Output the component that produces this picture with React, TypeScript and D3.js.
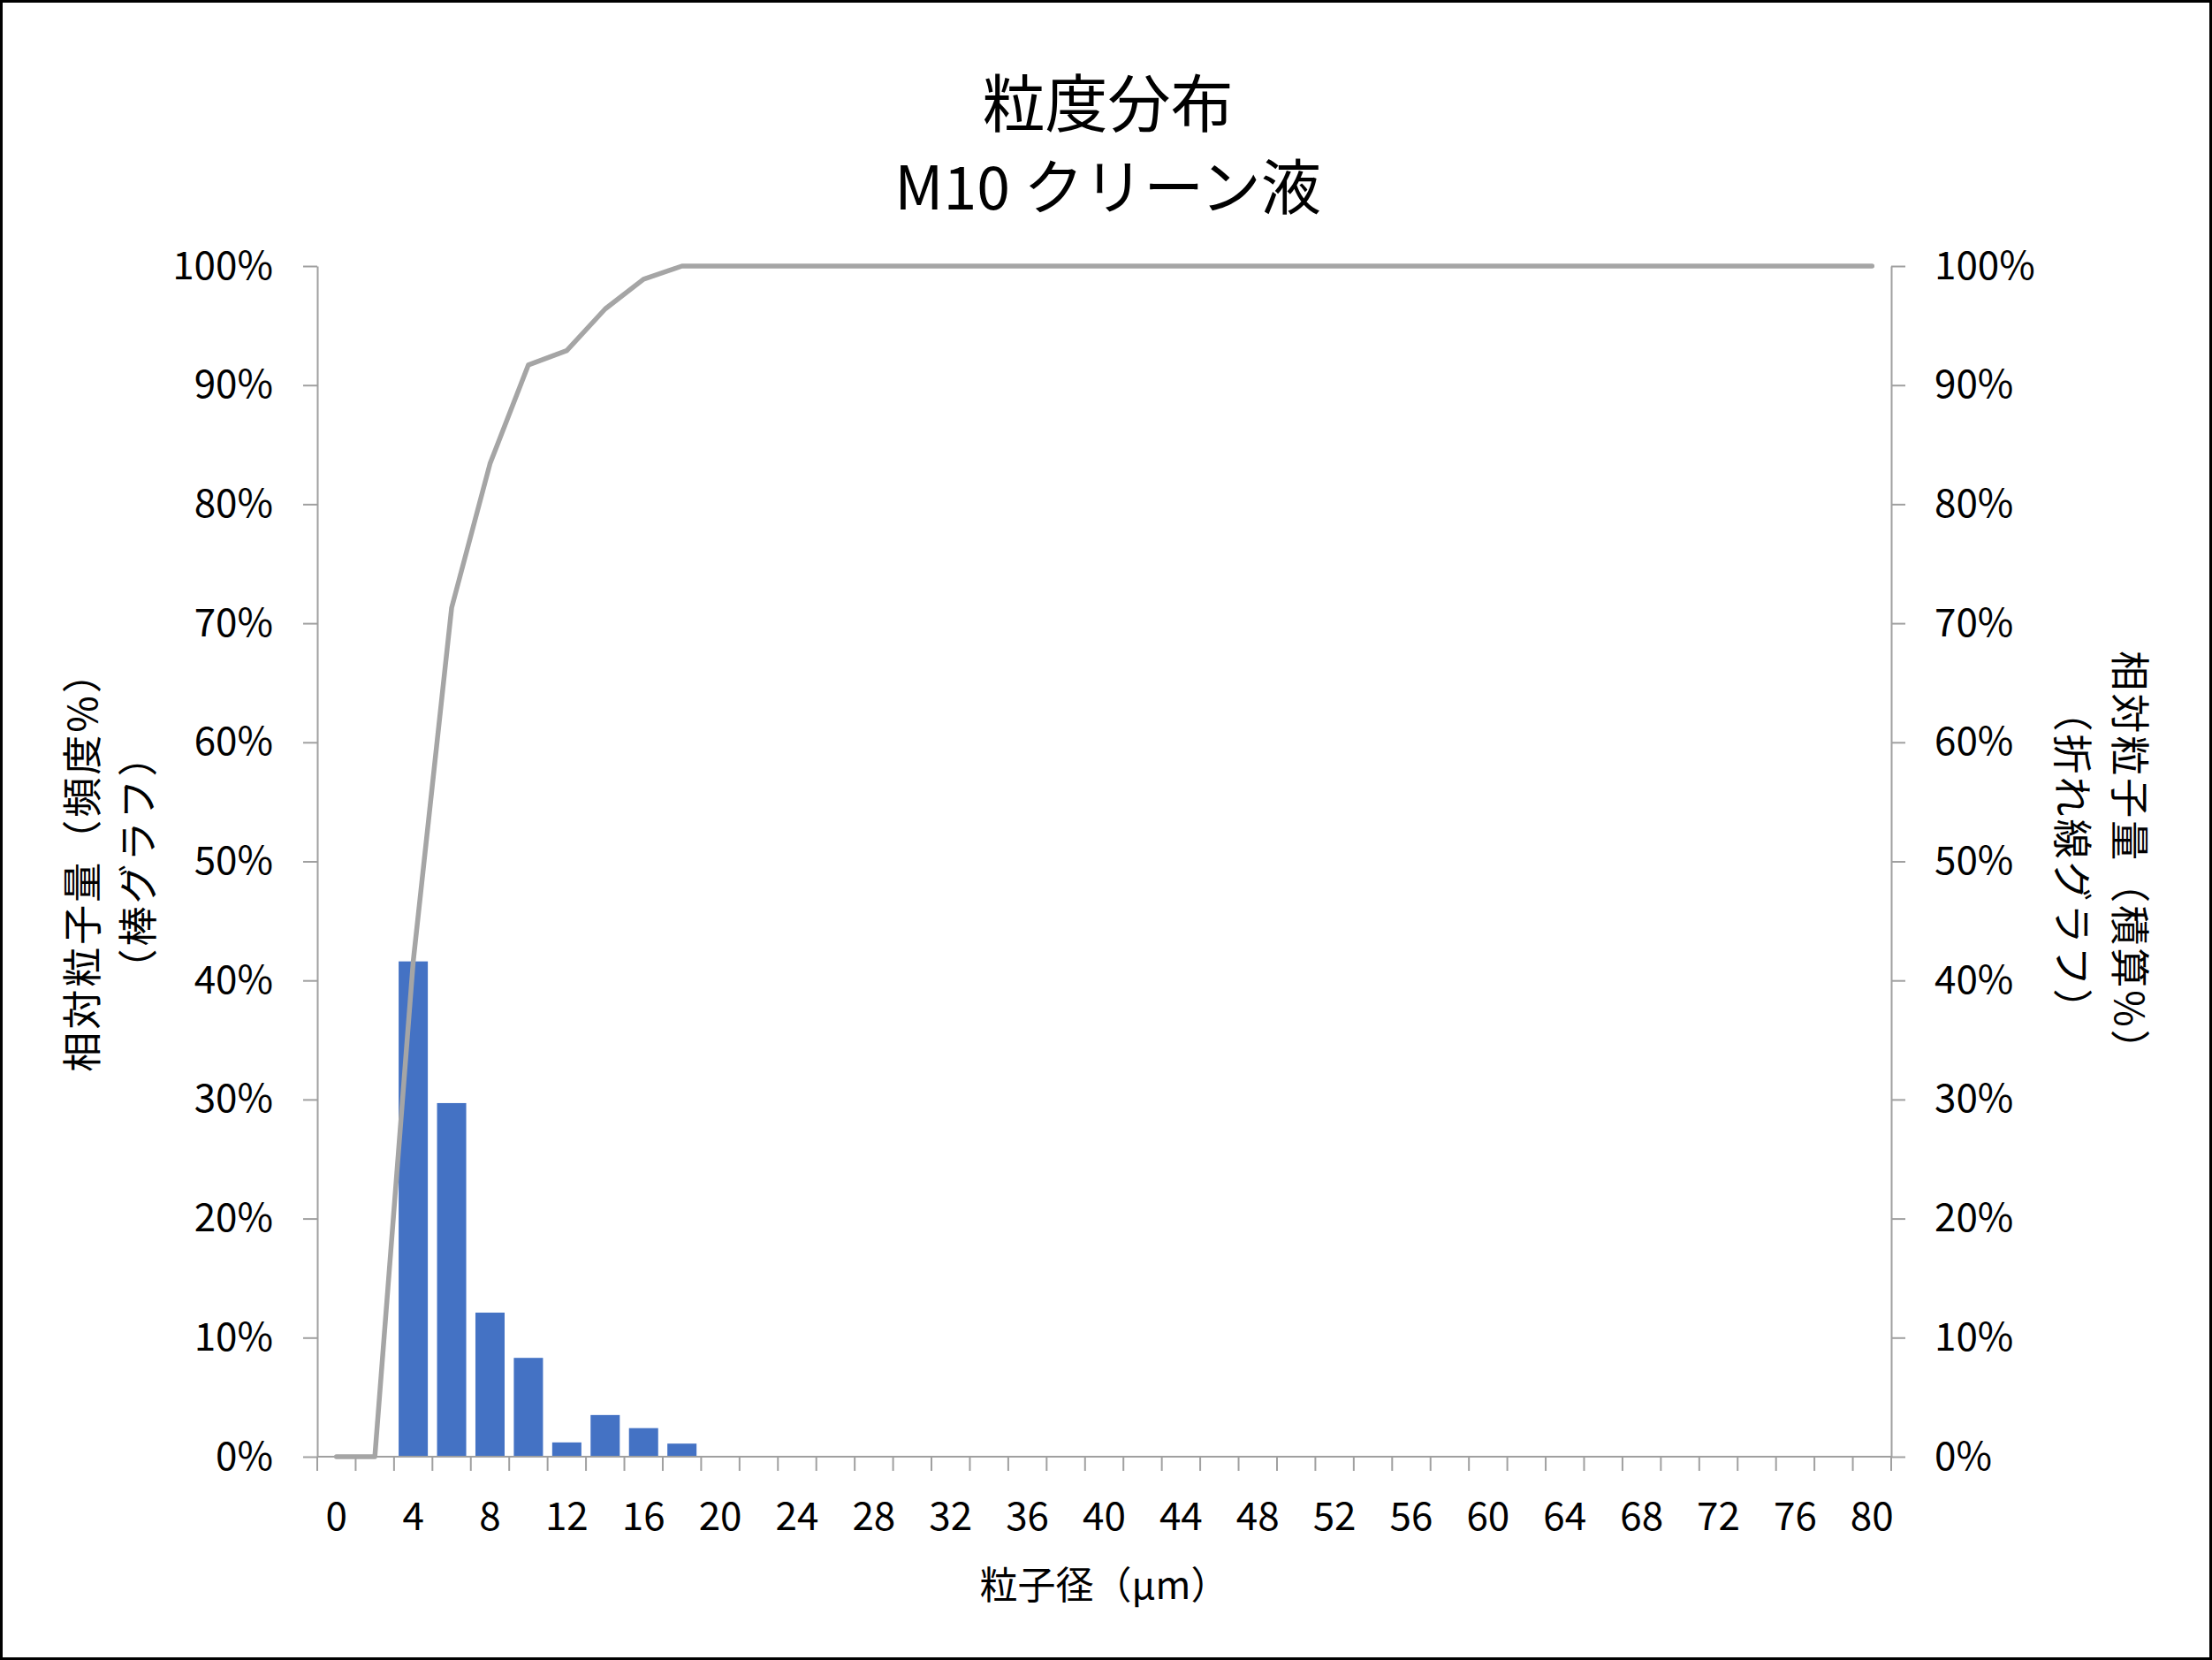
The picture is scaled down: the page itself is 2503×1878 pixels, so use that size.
import { useEffect, useRef } from 'react';
import * as d3 from 'd3';

// particle size categories (µm)
const sizes = [
  '0', '2', '4', '6', '8', '10', '12', '14', '16', '18',
  '20', '22', '24', '26', '28', '30', '32', '34', '36', '38',
  '40', '42', '44', '46', '48', '50', '52', '54', '56', '58',
  '60', '62', '64', '66', '68', '70', '72', '74', '76', '78', '80',
];

// frequency % (bars)
const frequency = [
  0, 0, 41.6, 29.7, 12.1, 8.3, 1.2, 3.5, 2.4, 1.1,
  0, 0, 0, 0, 0, 0, 0, 0, 0, 0,
  0, 0, 0, 0, 0, 0, 0, 0, 0, 0,
  0, 0, 0, 0, 0, 0, 0, 0, 0, 0, 0,
];

// cumulative % (line)
const cumulative = [
  0, 0, 41.6, 71.3, 83.4, 91.7, 92.9, 96.4, 98.9, 100,
  100, 100, 100, 100, 100, 100, 100, 100, 100, 100,
  100, 100, 100, 100, 100, 100, 100, 100, 100, 100,
  100, 100, 100, 100, 100, 100, 100, 100, 100, 100, 100,
];

const xTickLabels = [
  '0', '4', '8', '12', '16', '20', '24', '28', '32', '36', '40',
  '44', '48', '52', '56', '60', '64', '68', '72', '76', '80',
];
const yTicks = [0, 10, 20, 30, 40, 50, 60, 70, 80, 90, 100];

const titleLines = ['粒度分布', 'M10 クリーン液'];
const leftTitle = ['相対粒子量（頻度%）', '（棒グラフ）'];
const rightTitle = ['相対粒子量（積算%）', '（折れ線グラフ）'];
const xTitle = '粒子径（μm）';

const W = 2503;
const H = 1878;
const FONT = "'Noto Sans CJK JP', 'Noto Sans', sans-serif";
const AXIS = '#a0a0a0';

export default function App() {
  const svgRef = useRef<SVGSVGElement>(null);

  useEffect(() => {
    if (!svgRef.current) return;
    const margin = { top: 301, right: W - 2140, bottom: H - 1648, left: 359 };
    const left = margin.left;
    const right = W - margin.right;
    const top = margin.top;
    const bottom = H - margin.bottom;

    d3.select(svgRef.current).selectAll('*').remove();
    const svg = d3.select(svgRef.current)
      .attr('width', W)
      .attr('height', H)
      .style('font-family', FONT);

    svg.append('rect')
      .attr('x', 1.5).attr('y', 1.5)
      .attr('width', W - 3).attr('height', H - 3)
      .attr('fill', '#fff').attr('stroke', '#000').attr('stroke-width', 3);

    const x = d3.scaleBand<string>().domain(sizes).range([left, right]).padding(0);
    const y = d3.scaleLinear().domain([0, 100]).range([bottom, top]);
    const yRight = d3.scaleLinear().domain([0, 100]).range([bottom, top]);

    // titles
    svg.append('g')
      .selectAll('text')
      .data(titleLines)
      .enter()
      .append('text')
      .attr('x', (left + right) / 2 + 4)
      .attr('y', (_, i) => 112 + i * 95)
      .attr('text-anchor', 'middle')
      .attr('dominant-baseline', 'central')
      .style('font-size', (_, i) => (i === 0 ? '71px' : '68px'))
      .text(d => d);

    // bars
    const barW = x.bandwidth() * 0.76;
    svg.append('g')
      .selectAll('rect')
      .data(sizes.map((s, i) => ({ s, v: frequency[i] })).filter(d => d.v > 0))
      .enter()
      .append('rect')
      .attr('x', d => (x(d.s) as number) + (x.bandwidth() - barW) / 2)
      .attr('y', d => y(d.v))
      .attr('width', barW)
      .attr('height', d => y(0) - y(d.v))
      .attr('fill', '#4472c4');

    // left axis
    const gl = svg.append('g')
      .attr('transform', `translate(${left},0)`)
      .call(d3.axisLeft(y).tickValues(yTicks).tickFormat(d => `${d}%`).tickSize(16).tickSizeOuter(0).tickPadding(34));
    // right axis
    const gr = svg.append('g')
      .attr('transform', `translate(${right},0)`)
      .call(d3.axisRight(yRight).tickValues(yTicks).tickFormat(d => `${d}%`).tickSize(16).tickSizeOuter(0).tickPadding(33));
    [gl, gr].forEach(g => {
      g.select('.domain').attr('stroke', AXIS).attr('stroke-width', 2);
      g.selectAll('.tick line').attr('stroke', AXIS).attr('stroke-width', 2);
      g.selectAll('.tick text')
        .attr('fill', '#000')
        .style('font-size', '44px')
        .style('font-family', FONT);
    });

    // x axis
    const gx = svg.append('g');
    gx.append('line')
      .attr('x1', left).attr('x2', right)
      .attr('y1', bottom).attr('y2', bottom)
      .attr('stroke', AXIS).attr('stroke-width', 2);
    gx.selectAll('line.tk')
      .data([...sizes.map(s => x(s) as number), right])
      .enter()
      .append('line')
      .attr('class', 'tk')
      .attr('x1', d => d).attr('x2', d => d)
      .attr('y1', bottom).attr('y2', bottom + 16)
      .attr('stroke', AXIS).attr('stroke-width', 2);
    gx.selectAll('text')
      .data(xTickLabels)
      .enter()
      .append('text')
      .attr('x', d => (x(d) as number) + x.bandwidth() / 2)
      .attr('y', bottom + 64)
      .attr('text-anchor', 'middle')
      .attr('dominant-baseline', 'central')
      .style('font-size', '44px')
      .text(d => d);

    // cumulative line
    const line = d3.line<number>()
      .x((_, i) => (x(sizes[i]) as number) + x.bandwidth() / 2)
      .y(d => yRight(d));
    svg.append('path')
      .datum(cumulative)
      .attr('d', line)
      .attr('fill', 'none')
      .attr('stroke', '#a5a5a5')
      .attr('stroke-width', 5.5)
      .attr('stroke-linejoin', 'round')
      .attr('stroke-linecap', 'round');

    // axis titles
    const midY = (top + bottom) / 2;
    svg.append('g')
      .attr('transform', `translate(90,${midY}) rotate(-90)`)
      .selectAll('text')
      .data(leftTitle)
      .enter()
      .append('text')
      .attr('x', 0)
      .attr('y', (_, i) => i * 63)
      .attr('text-anchor', 'middle')
      .attr('dominant-baseline', 'central')
      .style('font-size', '45px')
      .style('letter-spacing', '3px')
      .text(d => d);

    svg.append('g')
      .attr('transform', `translate(2412,${midY}) rotate(90)`)
      .selectAll('text')
      .data(rightTitle)
      .enter()
      .append('text')
      .attr('x', 0)
      .attr('y', (_, i) => i * 65)
      .attr('text-anchor', 'middle')
      .attr('dominant-baseline', 'central')
      .style('font-size', '45px')
      .style('letter-spacing', '3px')
      .text(d => d);

    svg.append('text')
      .attr('x', (left + right) / 2)
      .attr('y', 1790)
      .attr('text-anchor', 'middle')
      .attr('dominant-baseline', 'central')
      .style('font-size', '43px')
      .text(xTitle);
  }, []);

  return (
    <div style={{ position: 'fixed', left: 0, top: 0 }}>
      <svg ref={svgRef} style={{ display: 'block' }}></svg>
    </div>
  );
}
